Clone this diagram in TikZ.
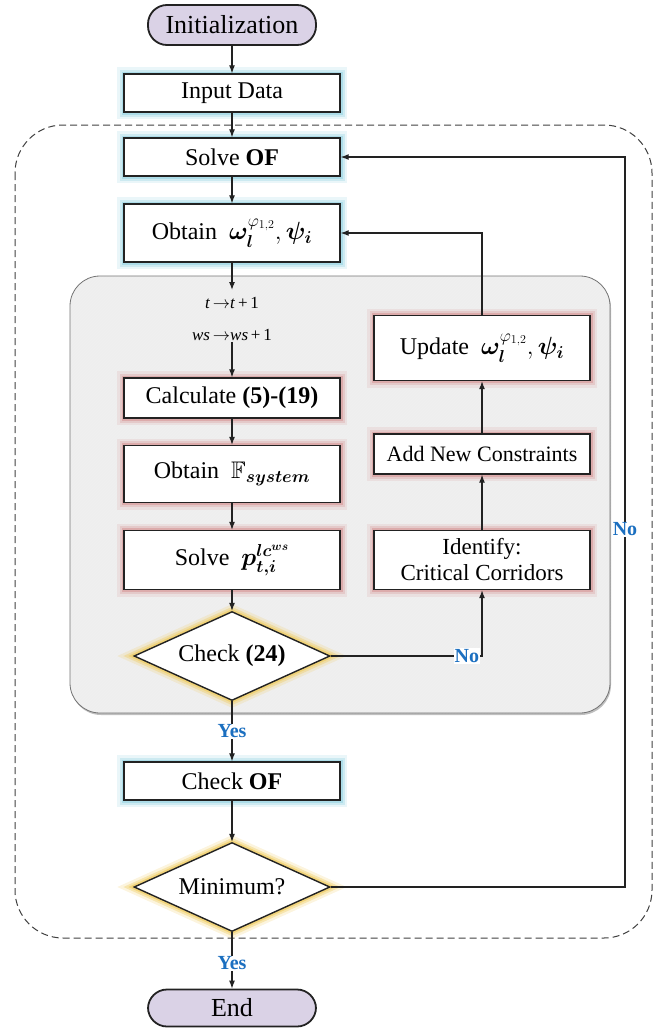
\documentclass[tikz,border=0pt]{standalone}
\usepackage{amsmath,amssymb,bm}
\usepackage{fontspec}
\setmainfont{Liberation Serif}
\usetikzlibrary{shapes.geometric,arrows.meta,patterns}
\definecolor{lav}{HTML}{DAD2E6}
\definecolor{glb}{HTML}{9ED6E4}
\definecolor{glr}{HTML}{D89C9C}
\definecolor{gly}{HTML}{F0CF6A}
\definecolor{lblue}{HTML}{1B6FC0}
\definecolor{panelfill}{HTML}{EEEEEE}
\definecolor{linec}{HTML}{222222}
\tikzset{
  boxtxt/.style={font=\fontsize{24}{28}\selectfont},
  box/.style={rectangle, draw=linec, line width=1.4pt, fill=white, minimum width=216pt, inner sep=2pt, boxtxt, align=center},
  glowb/.style={preaction={draw=glb, line width=14pt, opacity=0.22},
                preaction={draw=glb, line width=9pt, opacity=0.38},
                preaction={draw=glb, line width=5pt, opacity=0.7}},
  glowr/.style={preaction={draw=glr, line width=14pt, opacity=0.18},
                preaction={draw=glr, line width=9pt, opacity=0.32},
                preaction={draw=glr, line width=5pt, opacity=0.65}},
  glowy/.style={preaction={draw=gly, line width=14pt, opacity=0.22},
                preaction={draw=gly, line width=9pt, opacity=0.42},
                preaction={draw=gly, line width=5pt, opacity=0.75}},
  term/.style={rectangle, rounded corners=19pt, draw=linec, line width=1.8pt, fill=lav, minimum width=168pt, font=\fontsize{26}{30}\selectfont},
  dia/.style={diamond, aspect=2.2, draw=linec, line width=1.4pt, fill=white, minimum width=196pt, minimum height=89pt, inner sep=0pt, boxtxt},
  lab/.style={font=\fontsize{20}{24}\selectfont\bfseries, text=lblue, fill=white, inner sep=1pt},
  smallmath/.style={font=\fontsize{17}{20}\selectfont, inner sep=1pt},
  arr/.style={draw=linec, line width=1.1pt, -{Latex[length=8pt,width=6pt]}},
}
\newcommand{\wpsi}{$\bm{\omega}_{\bm{l}}^{\varphi_{1,2}}{,}\,\bm{\psi}_{\bm{i}}$}
\begin{document}
\begin{tikzpicture}[x=1pt,y=-1pt]
\useasboundingbox (0,0) rectangle (657,1031);
% outer dashed frame
\draw[draw=black!75, line width=1pt, dash pattern=on 7pt off 4pt, rounded corners=48pt] (15,125) rectangle (652,938);
% gray panel
\fill[black!25, rounded corners=30pt] (71,278) rectangle (611,715);
\fill[panelfill, rounded corners=30pt] (70,276) rectangle (610,713);
\fill[pattern=north east lines, pattern color=black!6, rounded corners=30pt] (70,276) rectangle (610,713);
\draw[black!55, line width=0.8pt, rounded corners=30pt] (70,276) rectangle (610,713);

% nodes
\node[term, minimum height=40pt] (init) at (232,25) {Initialization};
\node[box, glowb, minimum height=38pt] (input) at (232,93) {Input Data};
\node[box, glowb, minimum height=38pt] (solve) at (232,157) {Solve \textbf{OF}};
\node[box, glowb, minimum height=58pt] (obtain) at (232,233) {Obtain\ \ \wpsi};
\coordinate (a1) at (232,290);
\node[smallmath] (tt) at (232,303) {\textit{t}\,$\rightarrow$\textit{t}\,+\,1};
\node[smallmath] (ws) at (232,335) {\textit{ws}\,$\rightarrow$\textit{ws}\,+\,1};
\node[box, glowr, minimum height=40pt] (calc) at (232,398) {Calculate \textbf{(5)-(19)}};
\node[box, glowr, minimum height=57pt] (fsys) at (232,474) {Obtain\ \ $\mathbb{F}_{\bm{system}}$};
\node[box, glowr, minimum height=59pt] (solvep) at (232,560) {Solve\ \ $\bm{p}_{\bm{t,i}}^{\bm{lc}^{\bm{ws}}}$};
\node[dia, glowy] (c24) at (232,656) {Check \textbf{(24)}};
\node[box, glowr, minimum height=59pt, font=\fontsize{23}{26}\selectfont] (ident) at (482,560) {Identify:\\Critical Corridors};
\node[box, glowr, minimum height=40pt, font=\fontsize{22}{26}\selectfont] (addc) at (482,454) {Add New Constraints};
\node[box, glowr, minimum height=65pt] (update) at (482,348) {Update\ \ \wpsi};
\node[box, glowb, minimum height=38pt] (checkof) at (232,781) {Check \textbf{OF}};
\node[dia, glowy] (minq) at (232,887) {Minimum?};
\node[term, minimum height=37pt] (endn) at (232,1008) {End};
\coordinate (rt) at (625,887);
\coordinate (rtop) at (625,157);

% connectors
\draw[arr] (init) -- (input);
\draw[arr] (input) -- (solve);
\draw[arr] (solve) -- (obtain);
\draw[arr] (obtain) -- (a1);
\draw[arr] (ws) -- (calc);
\draw[arr] (calc) -- (fsys);
\draw[arr] (fsys) -- (solvep);
\draw[arr] (solvep) -- (c24);
\draw[arr] (c24.east) -| (ident.south) node[lab, pos=0.45] {No};
\draw[arr] (ident) -- (addc);
\draw[arr] (addc) -- (update);
\draw[arr] (update.north) |- (obtain.east);
\draw[arr] (c24.south) -- (checkof.north) node[lab, midway] {Yes};
\draw[arr] (checkof) -- (minq);
\draw[arr] (minq.east) -- (rt) -- (rtop) node[lab, pos=0.49] {No} -- (solve.east);
\draw[arr] (minq.south) -- (endn.north) node[lab, pos=0.55] {Yes};
\end{tikzpicture}
\end{document}
